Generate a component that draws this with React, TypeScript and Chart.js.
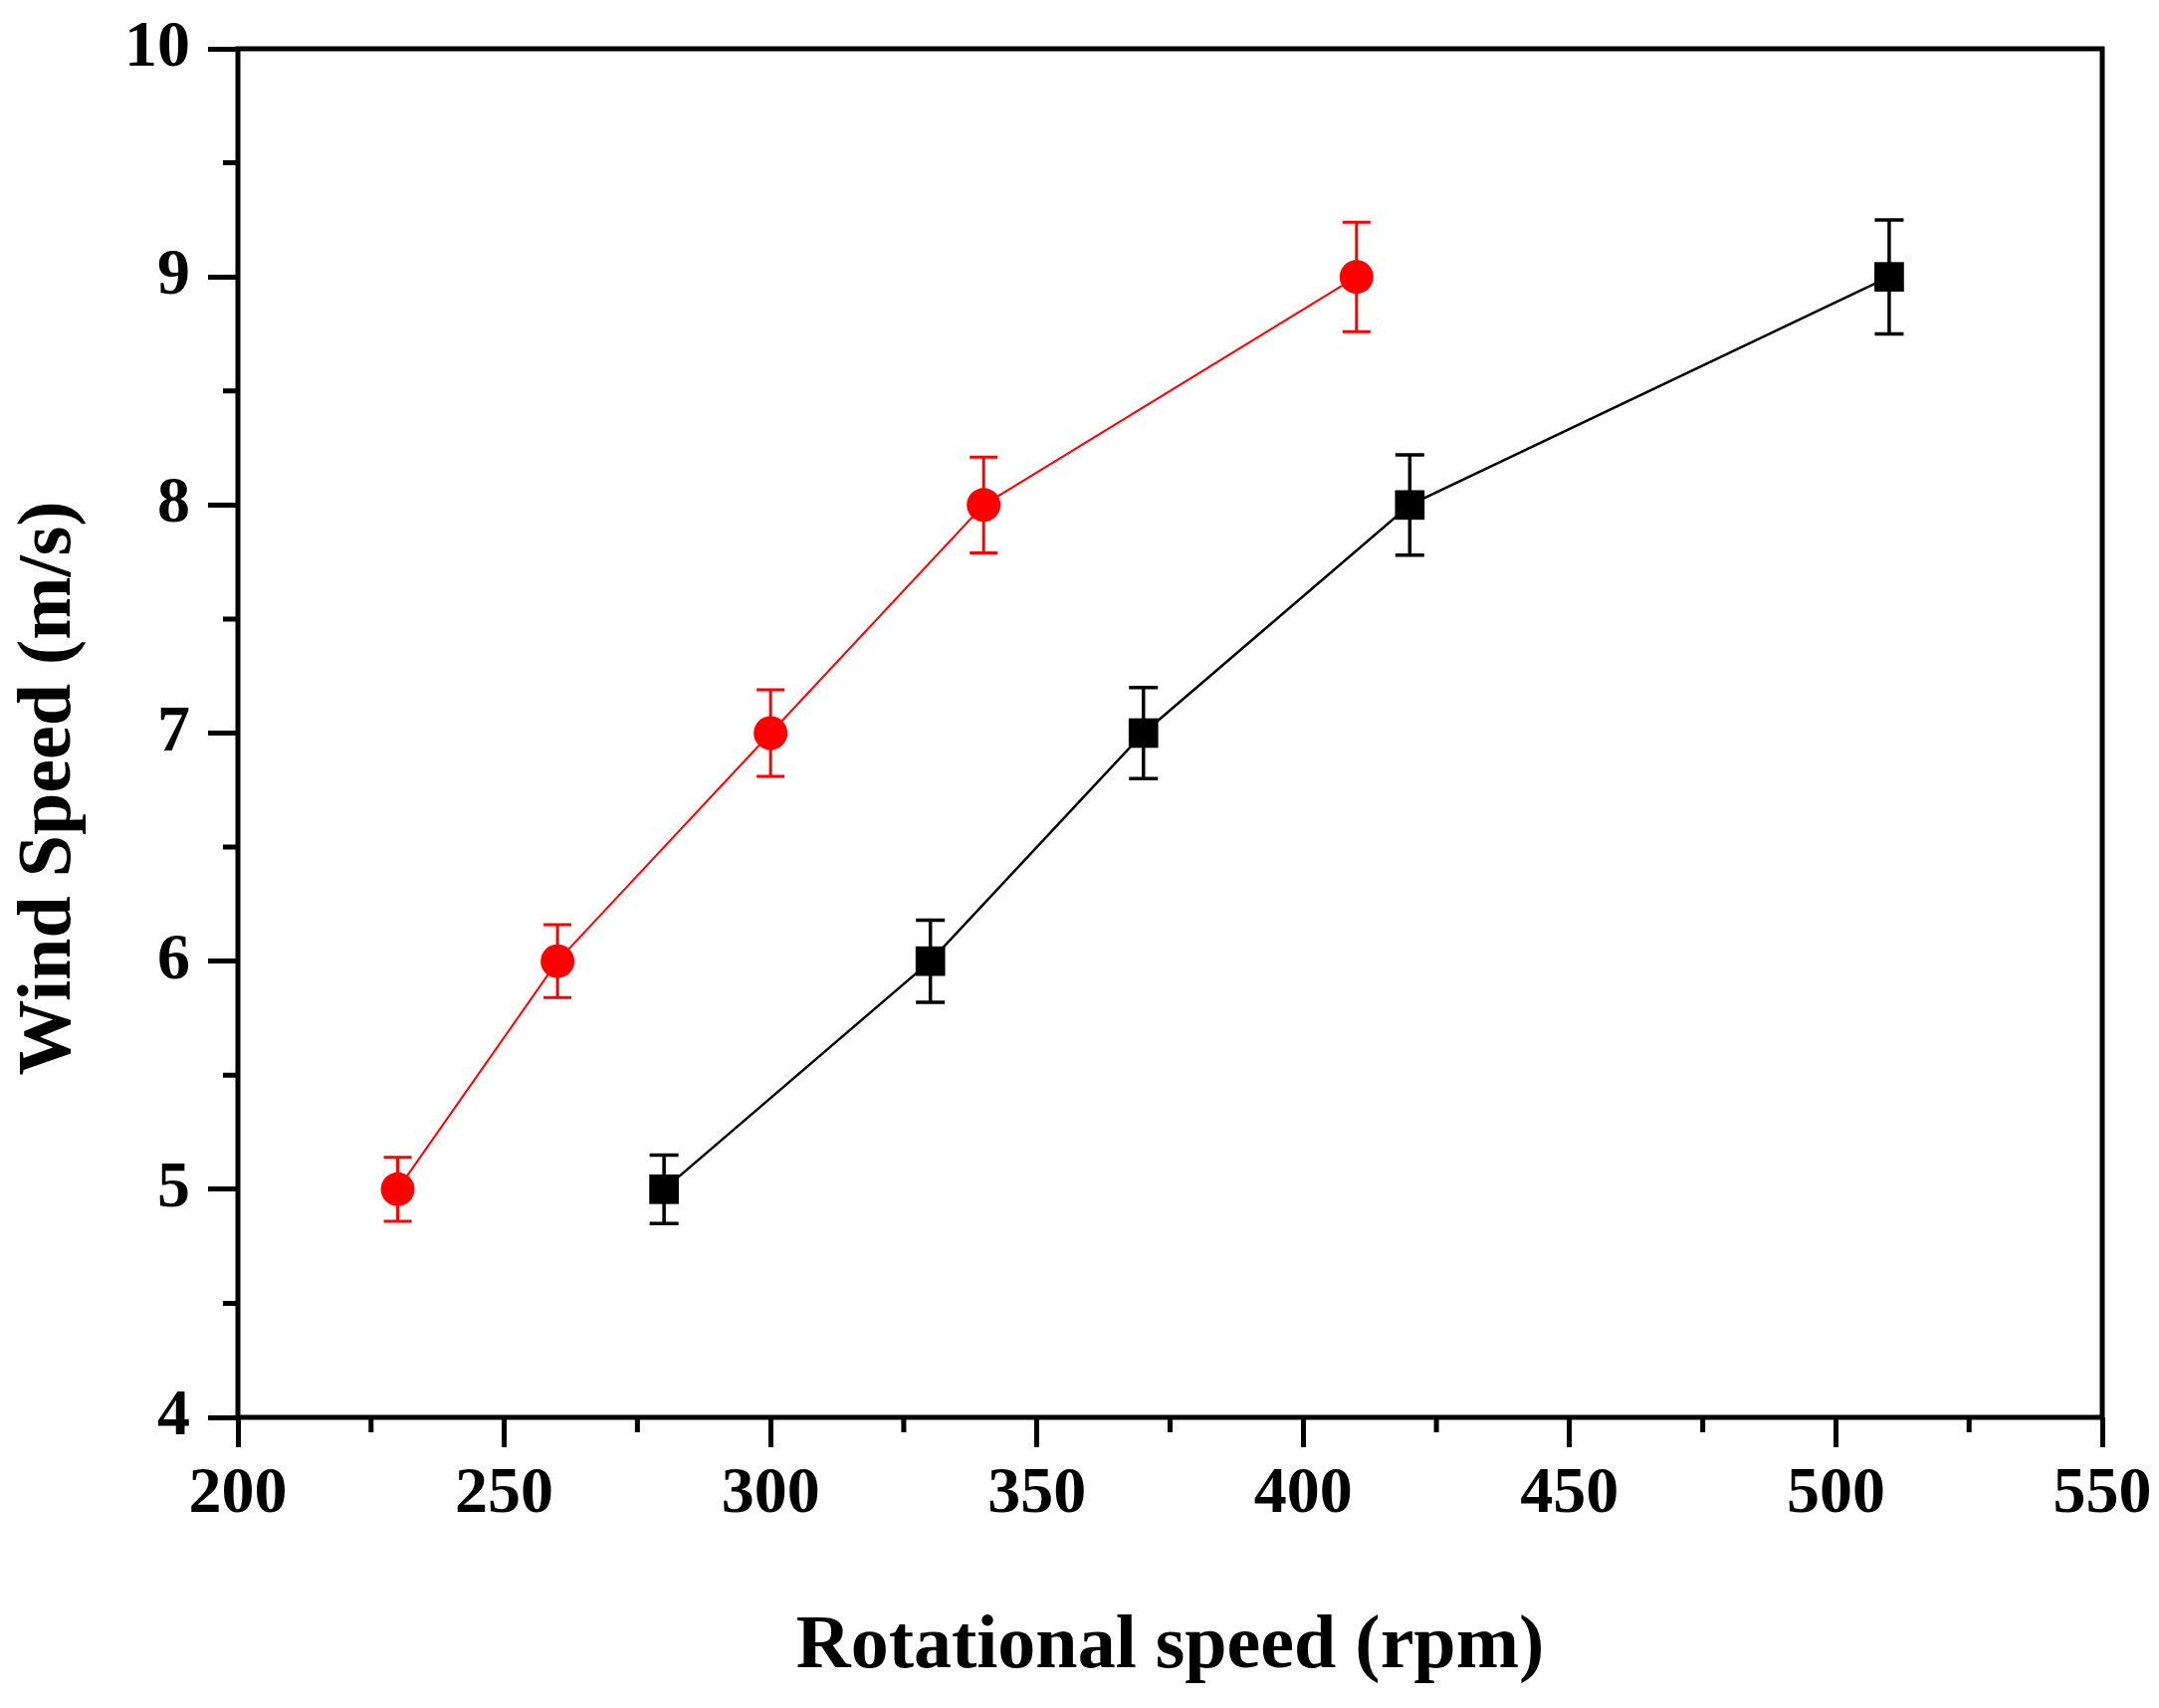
import React, { useEffect, useRef } from "react";
import { Chart, registerables } from "chart.js";

Chart.register(...registerables);

const redX = [230, 260, 300, 340, 410];
const redY = [5, 6, 7, 8, 9];
const redErr = [0.14, 0.16, 0.19, 0.21, 0.24];

const blackX = [280, 330, 370, 420, 510];
const blackY = [5, 6, 7, 8, 9];
const blackErr = [0.15, 0.18, 0.2, 0.22, 0.25];

const xMin = 200;
const xMax = 550;
const xMajorStep = 50;
const xMinorStep = 25;
const yMin = 4;
const yMax = 10;
const yMajorStep = 1;
const yMinorStep = 0.5;

const xTitle = "Rotational speed (rpm)";
const yTitle = "Wind Speed (m/s)";

const FONT = "'Liberation Serif', 'Times New Roman', serif";

const W = 2169;
const H = 1716;

function isMajor(v: number, step: number) {
  return Math.abs(v / step - Math.round(v / step)) < 1e-6;
}

const errorBarPlugin = {
  id: "errorBars",
  beforeDatasetsDraw(chart: any) {
    const ctx = chart.ctx;
    const xs = chart.scales.x;
    const ys = chart.scales.y;
    chart.data.datasets.forEach((ds: any) => {
      const errs: number[] = ds.errors || [];
      ctx.save();
      ctx.strokeStyle = ds.borderColor;
      ctx.lineWidth = ds.errWidth || 3;
      ds.data.forEach((p: any, i: number) => {
        const e = errs[i];
        if (e == null) return;
        const px = xs.getPixelForValue(p.x);
        const top = ys.getPixelForValue(p.y + e);
        const bot = ys.getPixelForValue(p.y - e);
        const cap = ds.capWidth / 2;
        ctx.beginPath();
        ctx.moveTo(px, top);
        ctx.lineTo(px, bot);
        ctx.moveTo(px - cap, top);
        ctx.lineTo(px + cap, top);
        ctx.moveTo(px - cap, bot);
        ctx.lineTo(px + cap, bot);
        ctx.stroke();
      });
      ctx.restore();
    });
  },
};

const framePlugin = {
  id: "frame",
  afterDraw(chart: any) {
    const ctx = chart.ctx;
    const a = chart.chartArea;
    const xs = chart.scales.x;
    const ys = chart.scales.y;
    ctx.save();
    ctx.strokeStyle = "#000";
    ctx.lineWidth = 5;
    ctx.lineCap = "butt";
    ctx.beginPath();
    for (let v = xMin; v <= xMax + 1e-9; v += xMinorStep) {
      if (isMajor(v, xMajorStep)) continue;
      const px = xs.getPixelForValue(v);
      ctx.moveTo(px, a.bottom);
      ctx.lineTo(px, a.bottom + 15);
    }
    for (let v = yMin; v <= yMax + 1e-9; v += yMinorStep) {
      if (isMajor(v, yMajorStep)) continue;
      const py = ys.getPixelForValue(v);
      ctx.moveTo(a.left, py);
      ctx.lineTo(a.left - 15, py);
    }
    ctx.stroke();
    ctx.lineJoin = "miter";
    ctx.strokeRect(a.left, a.top, a.right - a.left, a.bottom - a.top);
    ctx.fillStyle = "#000";
    ctx.font = `bold 76px ${FONT}`;
    ctx.textAlign = "center";
    ctx.textBaseline = "middle";
    ctx.translate(50, 792);
    ctx.rotate(-Math.PI / 2);
    ctx.fillText(yTitle, 0, 0);
    ctx.restore();
  },
};

export default function App() {
  const ref = useRef<HTMLCanvasElement | null>(null);

  useEffect(() => {
    document.body.style.margin = "0";
    if (!ref.current) return;
    const chart = new Chart(ref.current, {
      type: "scatter",
      data: {
        datasets: [
          {
            label: "red",
            data: redX.map((x, i) => ({ x, y: redY[i] })),
            showLine: true,
            borderColor: "#ff0000",
            backgroundColor: "#ff0000",
            borderWidth: 2,
            pointStyle: "circle",
            pointRadius: 17,
            pointBorderWidth: 0,
            pointHoverRadius: 17,
            errors: redErr,
            capWidth: 28,
            errWidth: 3,
          } as any,
          {
            label: "black",
            data: blackX.map((x, i) => ({ x, y: blackY[i] })),
            showLine: true,
            borderColor: "#000000",
            backgroundColor: "#000000",
            borderWidth: 2.5,
            pointStyle: "rect",
            pointRadius: 21,
            pointBorderWidth: 0,
            pointHoverRadius: 21,
            errors: blackErr,
            capWidth: 29,
            errWidth: 3.5,
          } as any,
        ],
      },
      options: {
        animation: false,
        responsive: true,
        maintainAspectRatio: false,
        devicePixelRatio: 1,
        layout: { padding: { left: 0, top: 49, right: 57, bottom: 0 } },
        plugins: {
          legend: { display: false },
          tooltip: { enabled: false },
        },
        scales: {
          x: {
            type: "linear",
            min: xMin,
            max: xMax,
            afterFit: (s: any) => {
              s.height = H - 1424;
              s.paddingLeft = 0;
              s.paddingRight = 0;
            },
            ticks: {
              stepSize: xMinorStep,
              autoSkip: false,
              maxRotation: 0,
              color: "#000",
              padding: 8,
              font: { family: FONT, size: 66, weight: "bold" },
              callback: (v: any) => (isMajor(Number(v), xMajorStep) ? String(v) : ""),
            },
            grid: {
              display: true,
              drawOnChartArea: false,
              drawTicks: true,
              tickLength: 30,
              tickWidth: 5,
              tickColor: (c: any) =>
                c.tick && isMajor(c.tick.value, xMajorStep) ? "#000" : "rgba(0,0,0,0)",
            },
            border: { display: false },
            title: {
              display: true,
              text: xTitle,
              color: "#000",
              font: { family: FONT, size: 76, weight: "bold" },
              padding: { top: 0, bottom: 15 },
            },
          },
          y: {
            type: "linear",
            min: yMin,
            max: yMax,
            afterFit: (s: any) => {
              s.width = 239;
              s.paddingTop = 0;
              s.paddingBottom = 0;
            },
            ticks: {
              stepSize: yMinorStep,
              autoSkip: false,
              color: "#000",
              padding: 18,
              font: { family: FONT, size: 66, weight: "bold" },
              callback: (v: any) => (isMajor(Number(v), yMajorStep) ? String(v) : ""),
            },
            grid: {
              display: true,
              drawOnChartArea: false,
              drawTicks: true,
              tickLength: 30,
              tickWidth: 5,
              tickColor: (c: any) =>
                c.tick && isMajor(c.tick.value, yMajorStep) ? "#000" : "rgba(0,0,0,0)",
            },
            border: { display: false },
          },
        },
      },
      plugins: [errorBarPlugin, framePlugin],
    } as any);
    return () => chart.destroy();
  }, []);

  return (
    <div style={{ width: W, height: H, position: "relative", background: "#fff" }}>
      <canvas ref={ref} />
    </div>
  );
}
